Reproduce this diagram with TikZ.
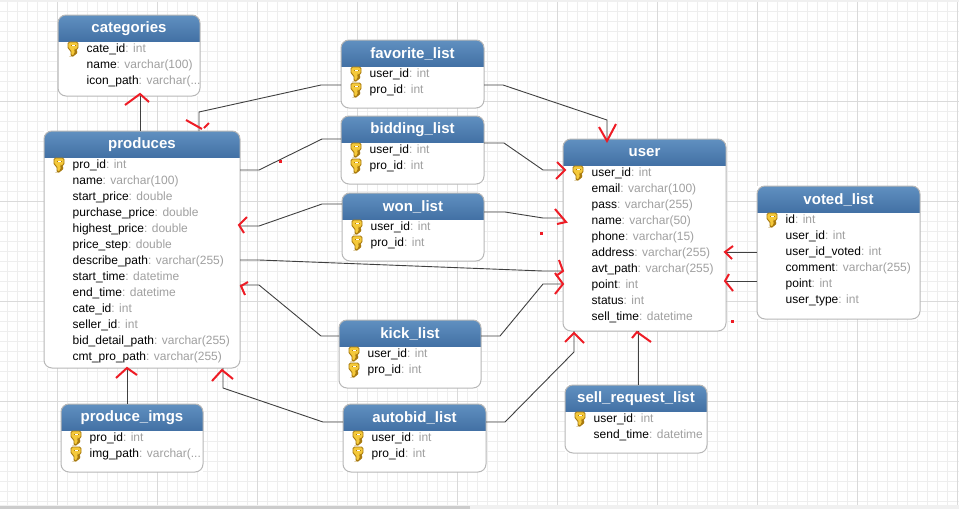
\documentclass[tikz,border=0pt]{standalone}
\usepackage{fontspec}
\setmainfont{Liberation Sans}
\usepackage{tikz}

\definecolor{minorgrid}{HTML}{EEEEEE}
\definecolor{majorgrid}{HTML}{DADADA}
\definecolor{typegray}{HTML}{A0A0A0}
\definecolor{headtop}{HTML}{6090C0}
\definecolor{headbottom}{HTML}{4371A5}
\definecolor{boxline}{HTML}{B8B8B8}
\definecolor{linkline}{HTML}{404040}
\definecolor{keyfill}{HTML}{F5C93A}
\definecolor{keyline}{HTML}{A87A10}
\definecolor{penred}{HTML}{EE1C25}

\newcommand{\cuttype}{varchar(...}

% small key in front of a primary column
\newcommand{\keyicon}[1]{
	\begin{scope}[shift={(#1)}]
		\filldraw[draw=keyline,fill=keyfill,line width=0.9,rounded corners=1.5]
			(-5,-7) -- (5,-7) -- (5,0) -- (2,1) -- (2,2) -- (3.5,2) -- (3.5,4)
			-- (2,4) -- (2,5) -- (0,7) -- (-2,7) -- (-2,1) -- (-5,0) -- cycle;
		\fill[keyline] (-2.5,-4.5) rectangle (2.5,-2.8);
		\fill[white] (-1.5,-4.2) rectangle (1.5,-3.4);
	\end{scope}
}

% box and blue title: name, left, top, width, height, title
\newcommand{\dbtable}[6]{
	\node[tablebox,minimum width=#4,minimum height=#5,anchor=north west] (#1) at (#2,#3) {};
	\begin{scope}
		\clip[rounded corners=8] (#1.north west) rectangle (#1.south east);
		\fill[top color=headtop,bottom color=headbottom] (#1.north west) rectangle ([yshift=-26]#1.north east);
	\end{scope}
	\draw[boxline,line width=1,rounded corners=8] (#1.north west) rectangle (#1.south east);
	\node[headtext] (#1-title) at ([yshift=-13.5]#1.north) {#6};
}

% columns: table, number of keys, field/type list
\newcommand{\dbrows}[3]{
	\foreach \field/\kind [count=\n] in {#3} {
		\pgfmathsetmacro{\rowy}{21.5+16*\n}
		\pgfmathsetmacro{\keyy}{18+16*\n}
		\node[rowtext] (#1-\n) at ([shift={(28.5,\rowy)}]#1.north west) {\field\textcolor{typegray}{: \kind}};
		\ifnum\n>#2\else
			\keyicon{[shift={(15,\keyy)}]#1.north west}
		\fi
	}
}

\begin{document}
\begin{tikzpicture}
	[
	x=1pt,y=-1pt,
	tablebox/.style={draw=none,fill=white,inner sep=0,outer sep=0},
	headtext/.style={text=white,font=\fontsize{15}{16}\selectfont\bfseries,inner sep=0},
	rowtext/.style={anchor=base west,inner sep=0,font=\fontsize{12}{14}\selectfont},
	link/.style={draw=linkline,line width=0.9},
	pen/.style={draw=penred,line width=2},
	]
		\useasboundingbox (0,0) rectangle (959,509);
		
		% grid
		\fill[white] (0,0) rectangle (959,509);
		\fill[black!6] (0,0) rectangle (959,2);
		\foreach \gx in {7.5,17.5,...,957.5} \draw[minorgrid,line width=1] (\gx,2) -- (\gx,505);
		\foreach \gy in {11.5,21.5,...,501.5} \draw[minorgrid,line width=1] (0,\gy) -- (959,\gy);
		\foreach \gx in {57.5,157.5,...,957.5} \draw[majorgrid,line width=1] (\gx,2) -- (\gx,505);
		\foreach \gy in {101.5,201.5,...,401.5} \draw[majorgrid,line width=1] (0,\gy) -- (959,\gy);
		\fill[black!6] (0,505) rectangle (959,509);
		\fill[black!20] (0,506) rectangle (470,509);
		
		% tables
		\dbtable{categories}{58}{15}{142}{81}{categories}
		\dbrows{categories}{1}{cate\_id/int,name/varchar(100),icon\_path/\cuttype}
		
		\dbtable{produces}{44}{131}{196}{237}{produces}
		\dbrows{produces}{1}{pro\_id/int,name/varchar(100),start\_price/double,purchase\_price/double,highest\_price/double,price\_step/double,describe\_path/varchar(255),start\_time/datetime,end\_time/datetime,cate\_id/int,seller\_id/int,bid\_detail\_path/varchar(255),cmt\_pro\_path/varchar(255)}
		
		\dbtable{favorite}{341}{40}{143}{68}{favorite\_list}
		\dbrows{favorite}{2}{user\_id/int,pro\_id/int}
		
		\dbtable{bidding}{341}{116}{143}{68}{bidding\_list}
		\dbrows{bidding}{2}{user\_id/int,pro\_id/int}
		
		\dbtable{won}{342}{193}{142}{68}{won\_list}
		\dbrows{won}{2}{user\_id/int,pro\_id/int}
		
		\dbtable{kick}{339}{320}{142}{68}{kick\_list}
		\dbrows{kick}{2}{user\_id/int,pro\_id/int}
		
		\dbtable{autobid}{343}{404}{143}{68}{autobid\_list}
		\dbrows{autobid}{2}{user\_id/int,pro\_id/int}
		
		\dbtable{imgs}{61}{404}{142}{68}{produce\_imgs}
		\dbrows{imgs}{2}{pro\_id/int,img\_path/\cuttype}
		
		\dbtable{user}{563}{139}{163}{192}{user}
		\dbrows{user}{1}{user\_id/int,email/varchar(100),pass/varchar(255),name/varchar(50),phone/varchar(15),address/varchar(255),avt\_path/varchar(255),point/int,status/int,sell\_time/datetime}
		
		\dbtable{voted}{757}{186}{163}{133}{voted\_list}
		\dbrows{voted}{1}{id/int,user\_id/int,user\_id\_voted/int,comment/varchar(255),point/int,user\_type/int}
		
		\dbtable{sell}{565}{385}{142}{68}{sell\_request\_list}
		\dbrows{sell}{1}{user\_id/int,send\_time/datetime}
		
		% straight links
		\draw[link] (categories.south -| 140,96) -- (produces.north -| 140,131);
		\draw[link] (imgs.north -| 127,404) -- (produces.south -| 127,368);
		\draw[link] (sell.north -| 638,385) -- (user.south -| 638,331);
		\draw[link] (voted.west |- 0,252) -- (user.east |- 0,252);
		\draw[link] (voted.west |- 0,281) -- (user.east |- 0,281);
		
		% links with two bends
		\foreach \from/\ax/\ay/\bx/\by/\to in {
			produces.east/259/170/322/139/bidding.west,
			produces.east/259/226/322/204/won.west,
			produces.east/259/285/321/336/kick.west,
			produces.east/259/260/543/271/user.west,
			bidding.east/504/143/543/170/user.west,
			won.east/505/212/543/218/user.west,
			kick.east/500/336/543/284/user.west}
			\draw[link] (\from |- \ax,\ay) -- (\ax,\ay) -- (\bx,\by) -- (\to |- \bx,\by);
		
		% links that leave through a top or bottom side
		\draw[link] (produces.north -| 199,112) -- (199,112) -- (321,85) -- (favorite.west |- 321,85);
		\draw[link] (favorite.east |- 503,85) -- (503,85) -- (607,120) -- (user.north -| 607,120);
		\draw[link] (produces.south -| 223,388) -- (223,388) -- (323,422) -- (autobid.west |- 323,422);
		\draw[link] (autobid.east |- 505,422) -- (505,422) -- (574,352) -- (user.south -| 574,352);
		
		% red pen strokes
		\foreach \ax/\ay/\bx/\by/\cx/\cy in {
			125/105/140/94/149/102,
			599/127/607/141/616/124,
			557/162/565/170/556/179,
			555/209/566/222/557/224,
			559/260/563/271/556/276,
			555/273/563/284/555/294,
			733/246/725/252/732/259,
			729/274/725/281/733/291,
			565/342/574/333/584/343,
			632/338/637/332/651/342,
			247/217/239/225/244/233,
			248/282/241/286/245/295,
			116/378/127/368/137/375,
			212/381/222/370/233/379}
			\draw[pen] (\ax,\ay) -- (\bx,\by) -- (\cx,\cy);
		\draw[pen] (186,120) -- (202,129);
		\draw[pen] (204,128) -- (209,123);
		
		% red specks
		\foreach \dx/\dy in {280/161,541/233,732/321} \fill[penred] (\dx-1.5,\dy-1.5) rectangle (\dx+1.5,\dy+1.5);
		
	\end{tikzpicture}
\end{document}
